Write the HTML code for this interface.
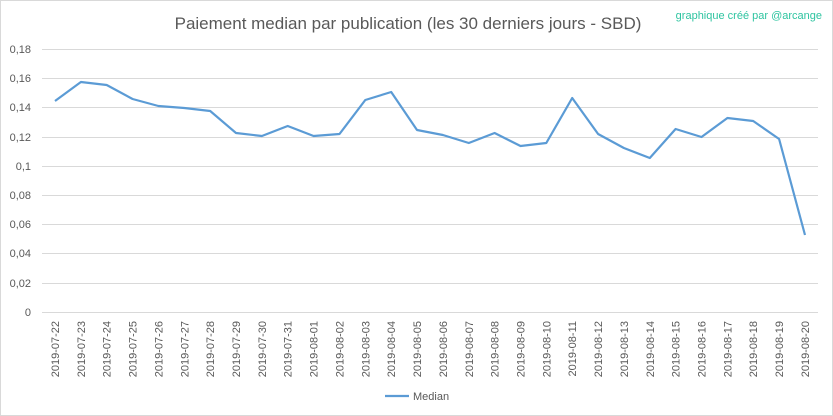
<!DOCTYPE html>
<html><head><meta charset="utf-8"><style>
html,body{margin:0;padding:0;background:#fff}
svg{display:block;font-family:"Liberation Sans",sans-serif}
</style></head><body>
<svg width="833" height="416" viewBox="0 0 833 416" xmlns="http://www.w3.org/2000/svg">
<rect x="0.5" y="0.5" width="832" height="415" fill="#fff" stroke="#d9d9d9"/>
<text x="408" y="29" text-anchor="middle" font-size="17" fill="#595959">Paiement median par publication (les 30 derniers jours - SBD)</text>
<text x="822" y="19" text-anchor="end" font-size="11" fill="#2ec4a0">graphique créé par @arcange</text>
<g stroke="#d9d9d9" stroke-width="1">
<line x1="42" x2="818" y1="49.5" y2="49.5"/>
<line x1="42" x2="818" y1="78.5" y2="78.5"/>
<line x1="42" x2="818" y1="107.5" y2="107.5"/>
<line x1="42" x2="818" y1="137.5" y2="137.5"/>
<line x1="42" x2="818" y1="166.5" y2="166.5"/>
<line x1="42" x2="818" y1="195.5" y2="195.5"/>
<line x1="42" x2="818" y1="224.5" y2="224.5"/>
<line x1="42" x2="818" y1="253.5" y2="253.5"/>
<line x1="42" x2="818" y1="283.5" y2="283.5"/>
<line x1="42" x2="818" y1="312.5" y2="312.5"/>
</g>
<g font-size="11" fill="#595959" text-anchor="end">
<text x="31" y="53">0,18</text><text x="31" y="82">0,16</text><text x="31" y="111">0,14</text>
<text x="31" y="141">0,12</text><text x="31" y="170">0,1</text><text x="31" y="199">0,08</text>
<text x="31" y="228">0,06</text><text x="31" y="257">0,04</text><text x="31" y="287">0,02</text>
<text x="31" y="316">0</text>
</g>
<polyline fill="none" stroke="#5b9bd5" stroke-width="2.2" stroke-linejoin="round" points="55,101 80.9,82 106.7,85 132.6,99 158.4,106 184.3,108 210.2,111 236,133 261.9,136 287.7,126 313.6,136 339.5,134 365.3,100 391.2,92 417,130 442.9,135 468.8,143 494.6,133 520.5,146 546.3,143 572.2,98 598.1,134 623.9,148 649.8,158 675.6,129 701.5,137 727.4,118 753.2,121 779.1,139 805,235"/>
<g font-size="11" fill="#595959" text-anchor="end">
<text transform="translate(59,321) rotate(-90)">2019-07-22</text>
<text transform="translate(84.9,321) rotate(-90)">2019-07-23</text>
<text transform="translate(110.7,321) rotate(-90)">2019-07-24</text>
<text transform="translate(136.6,321) rotate(-90)">2019-07-25</text>
<text transform="translate(162.4,321) rotate(-90)">2019-07-26</text>
<text transform="translate(188.3,321) rotate(-90)">2019-07-27</text>
<text transform="translate(214.2,321) rotate(-90)">2019-07-28</text>
<text transform="translate(240,321) rotate(-90)">2019-07-29</text>
<text transform="translate(265.9,321) rotate(-90)">2019-07-30</text>
<text transform="translate(291.7,321) rotate(-90)">2019-07-31</text>
<text transform="translate(317.6,321) rotate(-90)">2019-08-01</text>
<text transform="translate(343.5,321) rotate(-90)">2019-08-02</text>
<text transform="translate(369.3,321) rotate(-90)">2019-08-03</text>
<text transform="translate(395.2,321) rotate(-90)">2019-08-04</text>
<text transform="translate(421,321) rotate(-90)">2019-08-05</text>
<text transform="translate(446.9,321) rotate(-90)">2019-08-06</text>
<text transform="translate(472.8,321) rotate(-90)">2019-08-07</text>
<text transform="translate(498.6,321) rotate(-90)">2019-08-08</text>
<text transform="translate(524.5,321) rotate(-90)">2019-08-09</text>
<text transform="translate(550.3,321) rotate(-90)">2019-08-10</text>
<text transform="translate(576.2,321) rotate(-90)">2019-08-11</text>
<text transform="translate(602.1,321) rotate(-90)">2019-08-12</text>
<text transform="translate(627.9,321) rotate(-90)">2019-08-13</text>
<text transform="translate(653.8,321) rotate(-90)">2019-08-14</text>
<text transform="translate(679.6,321) rotate(-90)">2019-08-15</text>
<text transform="translate(705.5,321) rotate(-90)">2019-08-16</text>
<text transform="translate(731.4,321) rotate(-90)">2019-08-17</text>
<text transform="translate(757.2,321) rotate(-90)">2019-08-18</text>
<text transform="translate(783.1,321) rotate(-90)">2019-08-19</text>
<text transform="translate(809,321) rotate(-90)">2019-08-20</text>
</g>
<line x1="385" x2="409" y1="396" y2="396" stroke="#5b9bd5" stroke-width="2.2"/>
<text x="413" y="400" font-size="11" fill="#595959">Median</text>
</svg>
</body></html>
